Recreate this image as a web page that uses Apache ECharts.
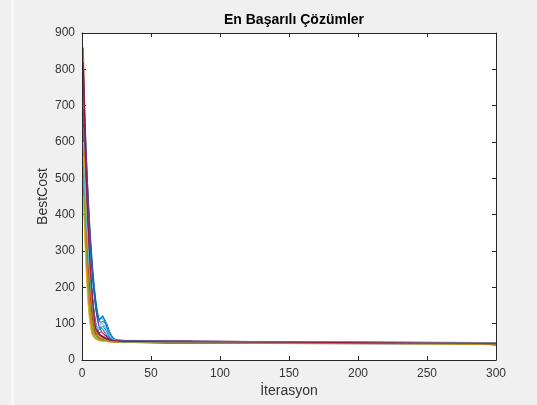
<!DOCTYPE html>
<html><head><meta charset="utf-8">
<script src="https://cdn.jsdelivr.net/npm/echarts@6/dist/echarts.min.js"></script>
<style>html,body{margin:0;padding:0;background:#f0f0f0;}#c{width:537px;height:405px;}</style>
</head><body><div id="c"></div>
<script>
// Tick labels
const xTicks = [0, 50, 100, 150, 200, 250, 300];
const yTicks = [0, 100, 200, 300, 400, 500, 600, 700, 800, 900];
// MATLAB default colour order
const palette = ['#0072BD','#D95319','#EDB120','#7E2F8E','#77AC30','#4DBEEE','#A2142F'];

// Best cost per run: [iteration, cost] pairs
const run01 = [[1,740],[2,640],[3,550],[4,470],[5,400],[6,335],[7,280],[8,232],[9,192],[10,160],[11,135],[12,118],[13,112],[14,115],[15,120],[16,112],[18,88],[20,66],[23,54],[28,49],[60,46],[300,44]];
const run02 = [[1,860],[2,690],[3,540],[4,415],[5,318],[6,240],[7,180],[8,135],[9,102],[10,82],[12,70],[15,63],[20,57],[30,54],[80,53],[81,46],[292,44],[293,40],[300,40]];
const run03 = [[1,520],[2,400],[3,300],[4,222],[5,164],[6,122],[7,92],[8,74],[10,62],[13,56],[18,51],[25,49],[192,47],[193,42],[300,42]];
const run04 = [[1,700],[2,610],[3,530],[4,455],[5,388],[6,328],[7,275],[8,228],[9,188],[10,152],[11,122],[12,100],[13,86],[15,74],[18,64],[22,56],[30,50],[300,45]];
const run05 = [[1,600],[2,480],[3,380],[4,300],[5,235],[6,182],[7,140],[8,108],[9,86],[10,72],[12,62],[15,56],[20,51],[69,47],[70,44],[300,44]];
const run06 = [[1,640],[2,555],[3,478],[4,410],[5,350],[6,296],[7,248],[8,205],[9,168],[10,138],[11,118],[12,108],[13,112],[14,120],[15,116],[17,98],[19,76],[22,58],[28,50],[300,46]];
const run07 = [[1,560],[2,450],[3,360],[4,285],[5,225],[6,175],[7,135],[8,104],[9,82],[10,68],[12,60],[16,54],[22,50],[300,46]];
const run08 = [[1,780],[2,670],[3,575],[4,490],[5,415],[6,350],[7,292],[8,242],[9,200],[10,165],[11,136],[12,115],[13,104],[14,100],[15,106],[16,110],[17,102],[19,80],[22,62],[26,53],[32,50],[300,46]];
const run09 = [[1,480],[2,365],[3,270],[4,196],[5,142],[6,104],[7,80],[8,67],[10,58],[14,53],[20,50],[300,47]];
const run10 = [[1,710],[2,570],[3,452],[4,355],[5,276],[6,212],[7,162],[8,124],[9,96],[10,80],[12,68],[16,59],[22,53],[40,50],[300,47]];
const run11 = [[1,820],[2,690],[3,580],[4,485],[5,402],[6,330],[7,270],[8,218],[9,175],[10,140],[11,114],[12,96],[13,92],[15,84],[18,66],[24,53],[300,47]];
const run12 = [[1,540],[2,420],[3,322],[4,244],[5,182],[6,135],[7,100],[8,78],[9,66],[11,58],[15,53],[25,50],[192,47],[193,45],[300,45]];
const run13 = [[1,670],[2,560],[3,465],[4,385],[5,315],[6,255],[7,205],[8,162],[9,128],[10,102],[11,86],[12,76],[14,66],[17,58],[22,52],[30,49],[300,48]];
const run14 = [[1,760],[2,620],[3,500],[4,400],[5,315],[6,245],[7,188],[8,142],[9,108],[10,88],[12,74],[14,78],[16,70],[19,60],[24,55],[35,53],[80,52],[81,47],[300,46]];
const run15 = [[1,620],[2,545],[3,475],[4,412],[5,355],[6,303],[7,256],[8,214],[9,178],[10,148],[11,124],[12,110],[13,108],[14,114],[15,122],[16,118],[18,100],[20,78],[23,58],[28,51],[300,48]];
const run16 = [[1,580],[2,455],[3,352],[4,270],[5,205],[6,155],[7,118],[8,92],[9,76],[11,64],[14,57],[19,52],[300,44]];
const run17 = [[1,450],[2,335],[3,245],[4,176],[5,126],[6,94],[7,74],[8,64],[10,57],[13,52],[20,50],[300,48]];
const run18 = [[1,590],[2,500],[3,420],[4,350],[5,290],[6,238],[7,194],[8,156],[9,126],[10,102],[11,86],[12,76],[14,68],[18,60],[25,52],[300,46]];
const run19 = [[1,700],[2,580],[3,478],[4,390],[5,316],[6,252],[7,200],[8,156],[9,122],[10,96],[11,80],[13,68],[16,60],[21,54],[30,51],[300,48]];
const run20 = [[1,730],[2,600],[3,490],[4,398],[5,320],[6,256],[7,202],[8,158],[9,124],[10,100],[12,84],[14,90],[16,82],[19,64],[25,53],[300,47]];
const run21 = [[1,650],[2,540],[3,445],[4,365],[5,296],[6,238],[7,190],[8,150],[9,118],[10,94],[11,80],[13,70],[16,62],[20,56],[26,51],[80,50],[300,46]];
const run22 = [[1,690],[2,560],[3,450],[4,360],[5,286],[6,226],[7,176],[8,136],[9,106],[10,86],[11,78],[13,86],[15,94],[17,84],[20,62],[25,52],[300,45]];
const run23 = [[1,640],[2,520],[3,418],[4,332],[5,262],[6,205],[7,158],[8,120],[9,92],[10,76],[12,64],[16,56],[22,51],[300,46]];
const run24 = [[1,600],[2,505],[3,420],[4,348],[5,286],[6,232],[7,186],[8,148],[9,116],[10,92],[11,76],[13,64],[17,56],[24,51],[300,47]];
const run25 = [[1,750],[2,615],[3,500],[4,405],[5,325],[6,258],[7,202],[8,156],[9,120],[10,94],[11,78],[13,68],[16,60],[21,53],[300,46]];
const run26 = [[1,500],[2,400],[3,315],[4,246],[5,190],[6,146],[7,112],[8,88],[9,72],[11,62],[15,55],[22,50],[300,46]];
const run27 = [[1,560],[2,470],[3,392],[4,324],[5,266],[6,216],[7,174],[8,140],[9,112],[10,94],[11,84],[12,90],[14,102],[16,96],[18,80],[21,60],[26,51],[300,47]];
const run28 = [[1,800],[2,650],[3,522],[4,415],[5,326],[6,252],[7,192],[8,146],[9,110],[10,86],[12,70],[15,62],[20,55],[28,51],[300,46]];

const runs = [run01,run02,run03,run04,run05,run06,run07,run08,run09,run10,run11,run12,run13,run14,
              run15,run16,run17,run18,run19,run20,run21,run22,run23,run24,run25,run26,run27,run28];

const axisCol = '#262626';
const textCol = '#333333';
const font = 'Liberation Sans, Arial, Helvetica, sans-serif';
const chart = echarts.init(document.getElementById('c'));

const baseX = {
  type: 'value', min: 0, max: 300, interval: 50,
  axisLine: {show: true, onZero: false, lineStyle: {color: axisCol, width: 1}},
  axisTick: {show: true, inside: true, length: 4, lineStyle: {color: axisCol}},
  splitLine: {show: false}
};
const baseY = {
  type: 'value', min: 0, max: 900, interval: 100,
  axisLine: {show: true, onZero: false, lineStyle: {color: axisCol, width: 1}},
  axisTick: {show: true, inside: true, length: 4, lineStyle: {color: axisCol}},
  splitLine: {show: false}
};

chart.setOption({
  animation: false,
  backgroundColor: '#f0f0f0',
  color: palette,
  title: {
    text: 'En Başarılı Çözümler', left: 289, top: 8, textAlign: 'center',
    textStyle: {fontFamily: font, fontSize: 14, fontWeight: 'bold', color: '#000'}
  },
  grid: {left: 82, right: 41, top: 33, bottom: 45, show: true, backgroundColor: '#fff', borderWidth: 0, containLabel: false},
  graphic: [
    {type: 'line', shape: {x1: 12.5, y1: 0, x2: 12.5, y2: 405}, style: {stroke: '#fbfbfb', lineWidth: 2}, z: 0}
  ],
  xAxis: [
    Object.assign({}, baseX, {
      position: 'bottom',
      name: 'İterasyon', nameLocation: 'middle', nameGap: 24, nameMoveOverlap: false,
      nameTextStyle: {fontFamily: font, fontSize: 14, color: textCol},
      axisLabel: {fontFamily: font, fontSize: 12, color: textCol, margin: 8,
        formatter: v => xTicks.includes(v) ? String(v) : ''}
    }),
    Object.assign({}, baseX, {position: 'top', axisLabel: {show: false}})
  ],
  yAxis: [
    Object.assign({}, baseY, {
      position: 'left',
      name: 'BestCost', nameLocation: 'middle', nameGap: 32, nameMoveOverlap: false,
      nameTextStyle: {fontFamily: font, fontSize: 14, color: textCol},
      axisLabel: {fontFamily: font, fontSize: 12, color: textCol, margin: 7,
        formatter: v => yTicks.includes(v) ? String(v) : ''}
    }),
    Object.assign({}, baseY, {position: 'right', axisLabel: {show: false}})
  ],
  series: runs.map((r, i) => ({
    type: 'line', data: r, showSymbol: false, symbol: 'none',
    lineStyle: {width: 1, color: palette[i % palette.length]},
    xAxisIndex: 0, yAxisIndex: 0, z: 2 + i, silent: true
  }))
});
</script></body></html>
